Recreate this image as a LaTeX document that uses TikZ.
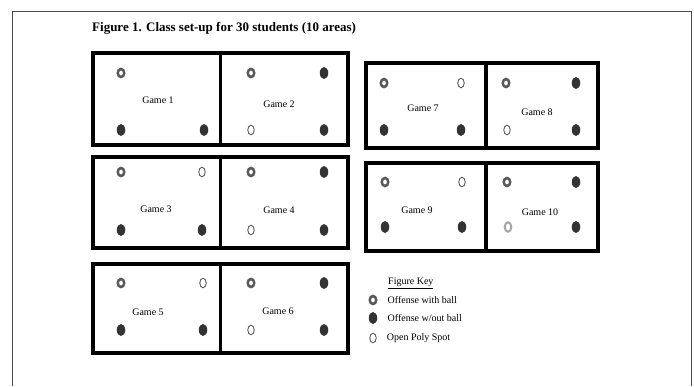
\documentclass[tikz,border=0pt]{standalone}
\usepackage{fontspec}
\setmainfont{Liberation Serif}
\usetikzlibrary{positioning,shapes.geometric}

\tikzset{
  field/.style={rectangle, draw, line width=3.2pt, inner sep=0pt, outer sep=0pt},
  gamelabel/.style={font=\fontsize{10}{12}\selectfont, inner sep=0pt},
  ballspot/.style={ellipse, draw=black!65, line width=2.5pt, minimum width=6.5pt, minimum height=8pt, inner sep=0pt},
  player/.style={ellipse, fill=black!80, minimum width=8.5pt, minimum height=12pt, inner sep=0pt},
  polyspot/.style={ellipse, draw=black!65, line width=0.9pt, minimum width=6.5pt, minimum height=9.5pt, inner sep=0pt},
}

\begin{document}
\begin{tikzpicture}[x=1pt, y=-1pt]
    \useasboundingbox (0,0) rectangle (694,386);
    % frame and title
    \draw[black!70, line width=0.9pt] (12,386) -- (12,11) -- (691,11) -- (691,386);
    \node[anchor=west, inner sep=0pt, font=\fontsize{13}{15}\selectfont\bfseries] (title) at (92,28)
        {Figure 1. Class set-up for 30 students (10 areas)};

    % playing areas
    \node[field, minimum width=127.5pt, minimum height=92pt] (g1) at (156.75,99) {};
    \node[field, minimum width=127.5pt, minimum height=92pt] (g2) at (284.25,99) {};
    \node[field, minimum width=127.5pt, minimum height=91pt] (g3) at (156.75,202.5) {};
    \node[field, minimum width=127.5pt, minimum height=91pt] (g4) at (284.25,202.5) {};
    \node[field, minimum width=127.5pt, minimum height=89pt] (g5) at (156.75,308.5) {};
    \node[field, minimum width=127.5pt, minimum height=89pt] (g6) at (284.25,308.5) {};
    \node[field, minimum width=120pt, minimum height=85pt] (g7) at (426,105.5) {};
    \node[field, minimum width=112pt, minimum height=85pt] (g8) at (542,105.5) {};
    \node[field, minimum width=120pt, minimum height=88pt] (g9) at (426,207) {};
    \node[field, minimum width=112pt, minimum height=88pt] (g10) at (542,207) {};

    % game names
    \node[gamelabel] (t1) at (158,100) {Game 1};
    \node[gamelabel] (t2) at (279,104) {Game 2};
    \node[gamelabel] (t3) at (156,209) {Game 3};
    \node[gamelabel] (t4) at (279,210) {Game 4};
    \node[gamelabel] (t5) at (148,312) {Game 5};
    \node[gamelabel] (t6) at (278,311) {Game 6};
    \node[gamelabel] (t7) at (423,108) {Game 7};
    \node[gamelabel] (t8) at (537,112) {Game 8};
    \node[gamelabel] (t9) at (417,210) {Game 9};
    \node[gamelabel] (t10) at (540,212) {Game 10};

    % players and spots
    \node[ballspot] (b1) at (121,73) {};
    \node[player] (d1a) at (121,130) {};
    \node[player] (d1b) at (204,130) {};

    \node[ballspot] (b2) at (251,73) {};
    \node[player] (d2a) at (324,73) {};
    \node[polyspot] (o2) at (251,130) {};
    \node[player] (d2b) at (324,130) {};

    \node[ballspot] (b3) at (121,172) {};
    \node[polyspot] (o3) at (202,172) {};
    \node[player] (d3a) at (121,230) {};
    \node[player] (d3b) at (202,230) {};

    \node[ballspot] (b4) at (251,172) {};
    \node[player] (d4a) at (324,172) {};
    \node[polyspot] (o4) at (251,230) {};
    \node[player] (d4b) at (324,230) {};

    \node[ballspot] (b5) at (121,283) {};
    \node[polyspot] (o5) at (203,283) {};
    \node[player] (d5a) at (121,330) {};
    \node[player] (d5b) at (203,330) {};

    \node[ballspot] (b6) at (251,283) {};
    \node[player] (d6a) at (324,283) {};
    \node[polyspot] (o6) at (251,330) {};
    \node[player] (d6b) at (324,330) {};

    \node[ballspot] (b7) at (384,83) {};
    \node[polyspot] (o7) at (461,83) {};
    \node[player] (d7a) at (384,130) {};
    \node[player] (d7b) at (461,130) {};

    \node[ballspot] (b8) at (506,83) {};
    \node[player] (d8a) at (576,83) {};
    \node[polyspot] (o8) at (507,130) {};
    \node[player] (d8b) at (576,130) {};

    \node[ballspot] (b9) at (385,182) {};
    \node[polyspot] (o9) at (462,182) {};
    \node[player] (d9a) at (385,227) {};
    \node[player] (d9b) at (462,227) {};

    \node[ballspot] (b10) at (507,182) {};
    \node[player] (d10a) at (576,182) {};
    \node[polyspot, draw=black!35, line width=2pt] (o10) at (508,227) {};
    \node[player] (d10b) at (576,227) {};

    % key
    \node[gamelabel, anchor=west] (key) at (388,283) {\underline{Figure Key}};
    \node[ballspot] (k1) at (373,300) {};
    \node[player] (k2) at (373,318) {};
    \node[polyspot] (k3) at (373,338) {};
    \node[gamelabel, right=10pt of k1] {Offense with ball};
    \node[gamelabel, right=10pt of k2] {Offense w/out ball};
    \node[gamelabel, right=10pt of k3] {Open Poly Spot};
\end{tikzpicture}
\end{document}
